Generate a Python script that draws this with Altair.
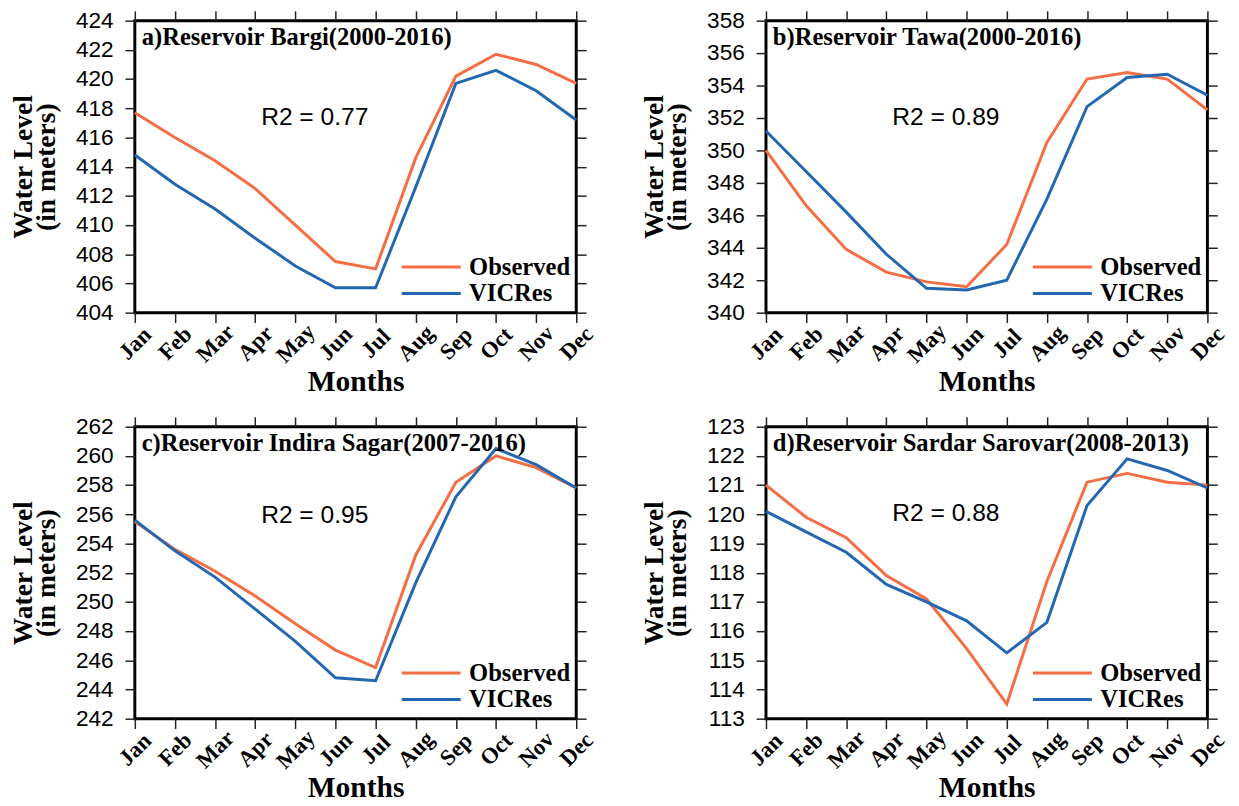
import altair as alt
import pandas as pd

months = ["Jan", "Feb", "Mar", "Apr", "May", "Jun", "Jul", "Aug", "Sep", "Oct", "Nov", "Dec"]
series_names = ["Observed", "VICRes"]

bargi_obs = [417.7, 416.0, 414.4, 412.5, 410.0, 407.5, 407.0, 414.6, 420.2, 421.7, 421.0, 419.7]
bargi_vic = [414.8, 412.8, 411.1, 409.1, 407.2, 405.7, 405.7, 412.6, 419.7, 420.6, 419.2, 417.2]

tawa_obs = [350.0, 346.6, 343.9, 342.5, 341.9, 341.6, 344.2, 350.5, 354.4, 354.8, 354.4, 352.5]
tawa_vic = [351.2, 348.7, 346.2, 343.6, 341.5, 341.4, 342.0, 347.0, 352.7, 354.5, 354.7, 353.4]

indira_obs = [255.5, 253.6, 252.1, 250.4, 248.5, 246.7, 245.5, 253.2, 258.2, 260.0, 259.2, 257.8]
indira_vic = [255.6, 253.5, 251.7, 249.5, 247.3, 244.8, 244.6, 251.3, 257.2, 260.5, 259.4, 257.8]

sardar_obs = [121.0, 119.9, 119.2, 117.9, 117.1, 115.4, 113.5, 117.7, 121.1, 121.4, 121.1, 121.0]
sardar_vic = [120.1, 119.4, 118.7, 117.6, 117.0, 116.35, 115.25, 116.3, 120.3, 121.9, 121.5, 120.9]

titles = [
    "a)Reservoir Bargi(2000-2016)",
    "b)Reservoir Tawa(2000-2016)",
    "c)Reservoir Indira Sagar(2007-2016)",
    "d)Reservoir Sardar Sarovar(2008-2013)",
]
r2_labels = ["R2 = 0.77", "R2 = 0.89", "R2 = 0.95", "R2 = 0.88"]
y_ranges = [(404, 424, 2), (340, 358, 2), (242, 262, 2), (113, 123, 1)]

SERIF = "Liberation Serif"
SANS = "Liberation Sans"
ORANGE = "#F46D43"
BLUE = "#2367B2"
W, H = 449, 297


def panel(title, r2, obs, vic, yr, r2_y):
    ymin, ymax, step = yr
    df = pd.DataFrame({
        "month": months * 2,
        "level": obs + vic,
        "series": [series_names[0]] * 12 + [series_names[1]] * 12,
    })
    yvals = list(range(ymin, ymax + 1, step))
    xscale = alt.Scale(type="point", padding=0)
    yscale = alt.Scale(domain=[ymin, ymax], nice=False, zero=False)

    lines = alt.Chart(df).mark_line(strokeWidth=3).encode(
        x=alt.X("month:O", sort=months, scale=xscale,
                axis=alt.Axis(title="Months", labelAngle=-45, labelAlign="center",
                              labelBaseline="middle", labelPadding=21,
                              labelFont=SERIF, labelFontWeight="bold", labelFontSize=23,
                              titleFont=SERIF, titleFontWeight="bold", titleFontSize=30,
                              titlePadding=0)),
        y=alt.Y("level:Q", scale=yscale,
                axis=alt.Axis(values=yvals, title=["Water Level", "(in meters)"],
                              labelFont=SANS, labelFontSize=23, labelPadding=12,
                              titleFont=SERIF, titleFontWeight="bold", titleFontSize=28,
                              titleLineHeight=24, titlePadding=15)),
        color=alt.Color("series:N",
                        scale=alt.Scale(domain=series_names, range=[ORANGE, BLUE]),
                        legend=alt.Legend(title=None, orient="bottom-right", offset=6, padding=0,
                                          symbolType="M-5,0H1", symbolStrokeWidth=3,
                                          symbolSize=400, labelFont=SERIF,
                                          labelFontWeight="bold", labelFontSize=25,
                                          labelColor="black", labelOffset=6, rowPadding=1)),
    )
    frame = alt.Chart(df).mark_line(opacity=0).encode(
        x=alt.X("month:O", sort=months, scale=xscale,
                axis=alt.Axis(title=None, labels=False, orient="top")),
        y=alt.Y("level:Q", scale=yscale,
                axis=alt.Axis(values=yvals, title=None, labels=False, orient="right")),
    )
    ttl = alt.Chart(pd.DataFrame({"t": [title]})).mark_text(
        align="left", baseline="middle", font=SERIF, fontWeight="bold", fontSize=25, color="black"
    ).encode(text="t:N", x=alt.value(7), y=alt.value(17))
    r2t = alt.Chart(pd.DataFrame({"t": [r2]})).mark_text(
        align="center", baseline="middle", font=SANS, fontSize=25, color="black"
    ).encode(text="t:N", x=alt.value(183), y=alt.value(r2_y))
    return alt.layer(lines, frame, ttl, r2t).resolve_axis(
        x="independent", y="independent"
    ).properties(width=W, height=H)


pa = panel(titles[0], r2_labels[0], bargi_obs, bargi_vic, y_ranges[0], 98)
pb = panel(titles[1], r2_labels[1], tawa_obs, tawa_vic, y_ranges[1], 98)
pc = panel(titles[2], r2_labels[2], indira_obs, indira_vic, y_ranges[2], 90)
pd_ = panel(titles[3], r2_labels[3], sardar_obs, sardar_vic, y_ranges[3], 88)

top = alt.hconcat(pa, pb, spacing=40).resolve_scale(color="independent")
bottom = alt.hconcat(pc, pd_, spacing=40).resolve_scale(color="independent")

chart = alt.vconcat(top, bottom, spacing=16).resolve_scale(color="independent").properties(
    padding={"left": 0, "top": -7, "right": 0, "bottom": 0}
).configure_view(
    stroke="black", strokeWidth=3
).configure_axis(
    grid=False, domain=False, tickSize=10, tickColor="#222222", tickWidth=1.5,
    labelColor="black", titleColor="black"
)

chart.save("out.html", embed_options={"renderer": "svg", "actions": False})
